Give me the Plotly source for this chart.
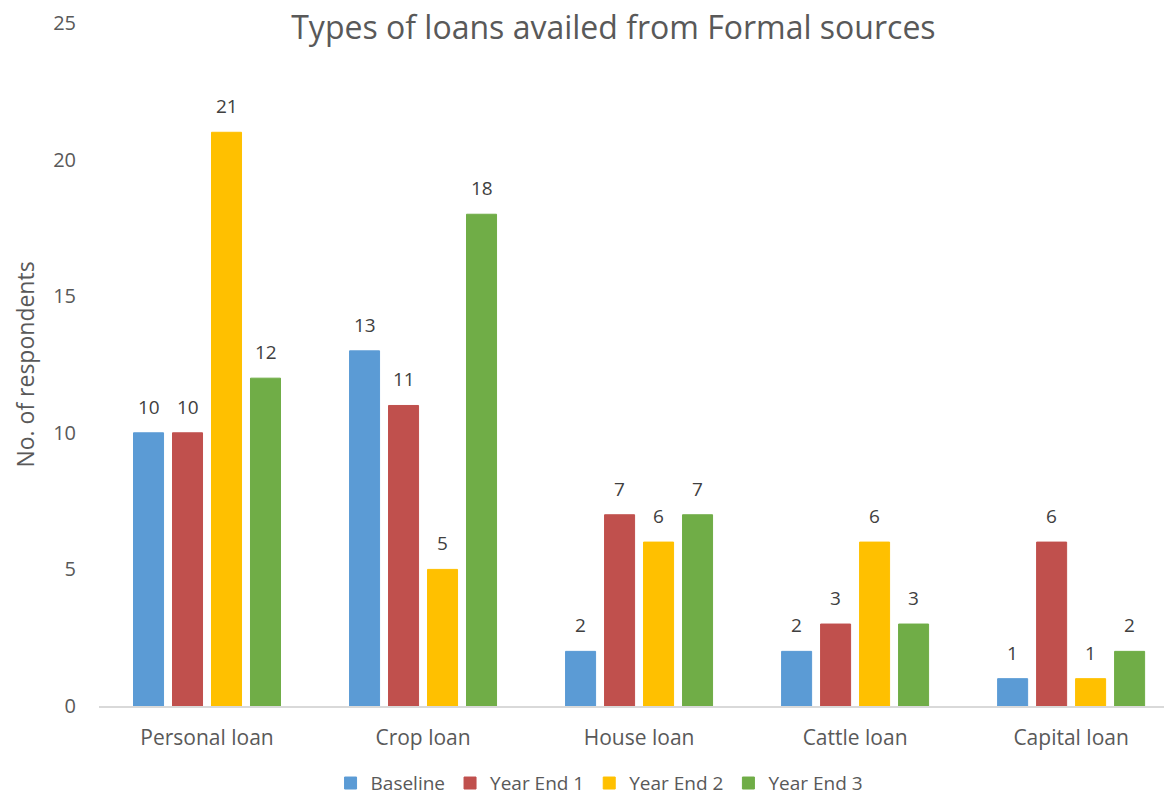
import plotly.graph_objects as go

categories = ["Personal loan", "Crop loan", "House loan", "Cattle loan", "Capital loan"]
baseline = [10, 13, 2, 2, 1]
year_end_1 = [10, 11, 7, 3, 6]
year_end_2 = [21, 5, 6, 6, 1]
year_end_3 = [12, 18, 7, 3, 2]

series = [
    ("Baseline", baseline, "#5B9BD5"),
    ("Year End 1", year_end_1, "#C0504D"),
    ("Year End 2", year_end_2, "#FFC000"),
    ("Year End 3", year_end_3, "#70AD47"),
]

FONT = "'Open Sans', 'Noto Sans', sans-serif"
TEXT = "#595959"
SLOT_PX = 39  # horizontal distance between neighbouring bars of a group

fig = go.Figure()
for name, vals, color in series:
    fig.add_trace(go.Bar(
        x=categories, y=vals, name=name,
        marker=dict(color=color, line=dict(color=color, width=1)),
    ))

# value labels above each bar
for i, (name, vals, color) in enumerate(series):
    for cat, v in zip(categories, vals):
        fig.add_annotation(
            x=cat, y=v, text=str(v), showarrow=False,
            xshift=(i - 1.5) * SLOT_PX, yshift=26, yanchor="middle",
            font=dict(family=FONT, size=19, color="#404040"),
        )

fig.update_layout(
    width=1164, height=798,
    margin=dict(l=99, r=0, t=23, b=92, autoexpand=False),
    paper_bgcolor="white", plot_bgcolor="white",
    barmode="group", bargap=0.278, bargroupgap=0.23,
    title=dict(text="Types of loans availed from Formal sources",
               x=0.527, xanchor="center", y=0.965, yanchor="middle",
               font=dict(family=FONT, size=32, color=TEXT)),
    font=dict(family=FONT, color=TEXT),
    showlegend=True,
    legend=dict(orientation="h", x=0.47, xanchor="center", y=-0.113, yanchor="middle",
                font=dict(family=FONT, size=19, color=TEXT),
                itemwidth=30, traceorder="normal"),
)
fig.update_xaxes(
    range=[-0.5, 4.43], showline=True, linecolor="#D9D9D9", linewidth=2,
    showgrid=False, ticks="", ticklabelstandoff=12, automargin=False,
    tickfont=dict(family=FONT, size=21, color=TEXT),
)
fig.update_yaxes(
    range=[0, 25], dtick=5, showgrid=False, showline=False, zeroline=False,
    ticks="", ticklabelstandoff=22, automargin=False,
    tickfont=dict(family=FONT, size=20, color=TEXT),
    title=dict(text="No. of respondents", standoff=12,
               font=dict(family=FONT, size=23, color=TEXT)),
)

fig.write_html("out.html")
